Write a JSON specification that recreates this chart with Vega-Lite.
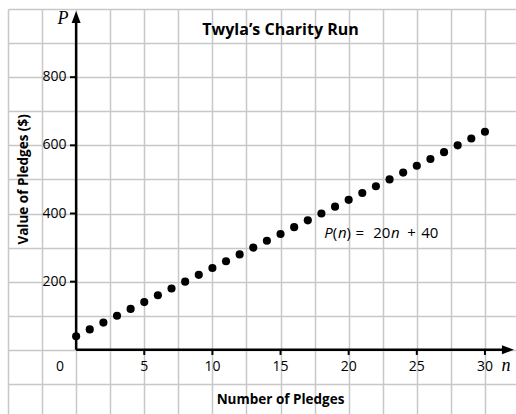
{
  "$schema": "https://vega.github.io/schema/vega-lite/v6.json",
  "autosize": "none",
  "width": 511,
  "height": 409,
  "padding": {"left": 8, "top": 9, "right": 0, "bottom": 0},
  "config": {"view": {"stroke": null}, "font": "Open Sans"},
  "datasets": {
    "pts": [
      {"n": 0, "P": 40}, {"n": 1, "P": 60}, {"n": 2, "P": 80}, {"n": 3, "P": 100},
      {"n": 4, "P": 120}, {"n": 5, "P": 140}, {"n": 6, "P": 160}, {"n": 7, "P": 180},
      {"n": 8, "P": 200}, {"n": 9, "P": 220}, {"n": 10, "P": 240}, {"n": 11, "P": 260},
      {"n": 12, "P": 280}, {"n": 13, "P": 300}, {"n": 14, "P": 320}, {"n": 15, "P": 340},
      {"n": 16, "P": 360}, {"n": 17, "P": 380}, {"n": 18, "P": 400}, {"n": 19, "P": 420},
      {"n": 20, "P": 440}, {"n": 21, "P": 460}, {"n": 22, "P": 480}, {"n": 23, "P": 500},
      {"n": 24, "P": 520}, {"n": 25, "P": 540}, {"n": 26, "P": 560}, {"n": 27, "P": 580},
      {"n": 28, "P": 600}, {"n": 29, "P": 620}, {"n": 30, "P": 640}
    ],
    "axisLines": [
      {"n": 0, "P": 0, "n2": 31.7, "P2": 0},
      {"n": 0, "P": 0, "n2": 0, "P2": 976}
    ],
    "ticks": [
      {"n": 5, "P": 0, "n2": 5, "P2": -15},
      {"n": 10, "P": 0, "n2": 10, "P2": -15},
      {"n": 15, "P": 0, "n2": 15, "P2": -15},
      {"n": 20, "P": 0, "n2": 20, "P2": -15},
      {"n": 25, "P": 0, "n2": 25, "P2": -15},
      {"n": 30, "P": 0, "n2": 30, "P2": -15},
      {"n": 0, "P": 200, "n2": -0.45, "P2": 200},
      {"n": 0, "P": 400, "n2": -0.45, "P2": 400},
      {"n": 0, "P": 600, "n2": -0.45, "P2": 600},
      {"n": 0, "P": 800, "n2": -0.45, "P2": 800}
    ],
    "arrows": [
      {"n": 0, "P": 976.5, "shape": "M0,-1L0.75,1L-0.75,1Z"},
      {"n": 31.69, "P": 0, "shape": "M1,0L-1,-0.75L-1,0.75Z"}
    ],
    "xlabels": [
      {"n": 5, "P": -49, "t": "5"}, {"n": 10, "P": -49, "t": "10"},
      {"n": 15, "P": -49, "t": "15"}, {"n": 20, "P": -49, "t": "20"},
      {"n": 25, "P": -49, "t": "25"}, {"n": 30, "P": -49, "t": "30"},
      {"n": -1.18, "P": -50, "t": "0"}
    ],
    "ylabels": [
      {"n": -0.7, "P": 200, "t": "200"}, {"n": -0.7, "P": 400, "t": "400"},
      {"n": -0.7, "P": 600, "t": "600"}, {"n": -0.7, "P": 800, "t": "800"}
    ]
  },
  "data": {"name": "pts"},
  "encoding": {
    "x": {
      "field": "n", "type": "quantitative",
      "scale": {"domain": [-5, 32.5], "nice": false, "zero": false},
      "axis": {
        "values": [-5, -2.5, 0, 2.5, 5, 7.5, 10, 12.5, 15, 17.5, 20, 22.5, 25, 27.5, 30, 32.5],
        "grid": true, "gridColor": "#c8c8c8", "gridWidth": 1.5, "gridOpacity": 1,
        "labels": false, "ticks": false, "domain": false, "title": null
      }
    },
    "y": {
      "field": "P", "type": "quantitative",
      "scale": {"domain": [-200, 1000], "nice": false, "zero": false},
      "axis": {
        "values": [-200, -100, 0, 100, 200, 300, 400, 500, 600, 700, 800, 900, 1000],
        "grid": true, "gridColor": "#c8c8c8", "gridWidth": 1.5, "gridOpacity": 1,
        "labels": false, "ticks": false, "domain": false, "title": null
      }
    }
  },
  "layer": [
    {
      "data": {"name": "axisLines"},
      "mark": {"type": "rule", "color": "black", "strokeWidth": 2.5},
      "encoding": {"x2": {"field": "n2"}, "y2": {"field": "P2"}}
    },
    {
      "data": {"name": "ticks"},
      "mark": {"type": "rule", "color": "black", "strokeWidth": 2},
      "encoding": {"x2": {"field": "n2"}, "y2": {"field": "P2"}}
    },
    {
      "data": {"name": "arrows"},
      "mark": {"type": "point", "filled": true, "color": "black", "opacity": 1, "size": 144},
      "encoding": {"shape": {"field": "shape", "type": "nominal", "scale": null}}
    },
    {
      "mark": {"type": "point", "filled": true, "color": "black", "opacity": 1, "size": 66}
    },
    {
      "data": {"name": "xlabels"},
      "mark": {"type": "text", "fontSize": 14, "align": "center", "baseline": "middle", "color": "black"},
      "encoding": {"text": {"field": "t"}}
    },
    {
      "data": {"name": "ylabels"},
      "mark": {"type": "text", "fontSize": 14, "align": "right", "baseline": "middle", "color": "black"},
      "encoding": {"text": {"field": "t"}}
    },
    {
      "data": {"values": [{"n": 15, "P": 938, "t": "Twyla’s Charity Run"}]},
      "mark": {"type": "text", "fontSize": 16, "fontWeight": "bold", "align": "center", "baseline": "middle", "color": "black"},
      "encoding": {"text": {"field": "t"}}
    },
    {
      "data": {"values": [{"n": 15, "P": -147, "t": "Number of Pledges"}]},
      "mark": {"type": "text", "fontSize": 13.5, "fontWeight": "bold", "align": "center", "baseline": "middle", "color": "black"},
      "encoding": {"text": {"field": "t"}}
    },
    {
      "data": {"values": [{"n": -3.83, "P": 500, "t": "Value of Pledges ($)"}]},
      "mark": {"type": "text", "fontSize": 13.5, "fontWeight": "bold", "align": "center", "baseline": "middle", "angle": 270, "color": "black"},
      "encoding": {"text": {"field": "t"}}
    },
    {
      "data": {"values": [{"n": -0.96, "P": 971, "t": "P"}, {"n": 31.55, "P": -47.5, "t": "n"}]},
      "mark": {"type": "text", "font": "Liberation Serif", "fontSize": 18, "fontStyle": "italic", "align": "center", "baseline": "middle", "color": "black"},
      "encoding": {"text": {"field": "t"}}
    },
    {
      "data": {"values": [
        {"n": 18.2, "P": 343, "t": "P"},
        {"n": 19.22, "P": 343, "t": "n"},
        {"n": 23.1, "P": 343, "t": "n"}
      ]},
      "mark": {"type": "text", "fontSize": 15, "fontStyle": "italic", "align": "left", "baseline": "middle", "color": "black"},
      "encoding": {"text": {"field": "t"}}
    },
    {
      "data": {"values": [
        {"n": 18.84, "P": 343, "t": "("},
        {"n": 19.84, "P": 343, "t": ")"},
        {"n": 20.5, "P": 343, "t": "="},
        {"n": 21.8, "P": 343, "t": "20"},
        {"n": 24.3, "P": 343, "t": "+"},
        {"n": 25.32, "P": 343, "t": "40"}
      ]},
      "mark": {"type": "text", "fontSize": 15, "align": "left", "baseline": "middle", "color": "black"},
      "encoding": {"text": {"field": "t"}}
    }
  ]
}
